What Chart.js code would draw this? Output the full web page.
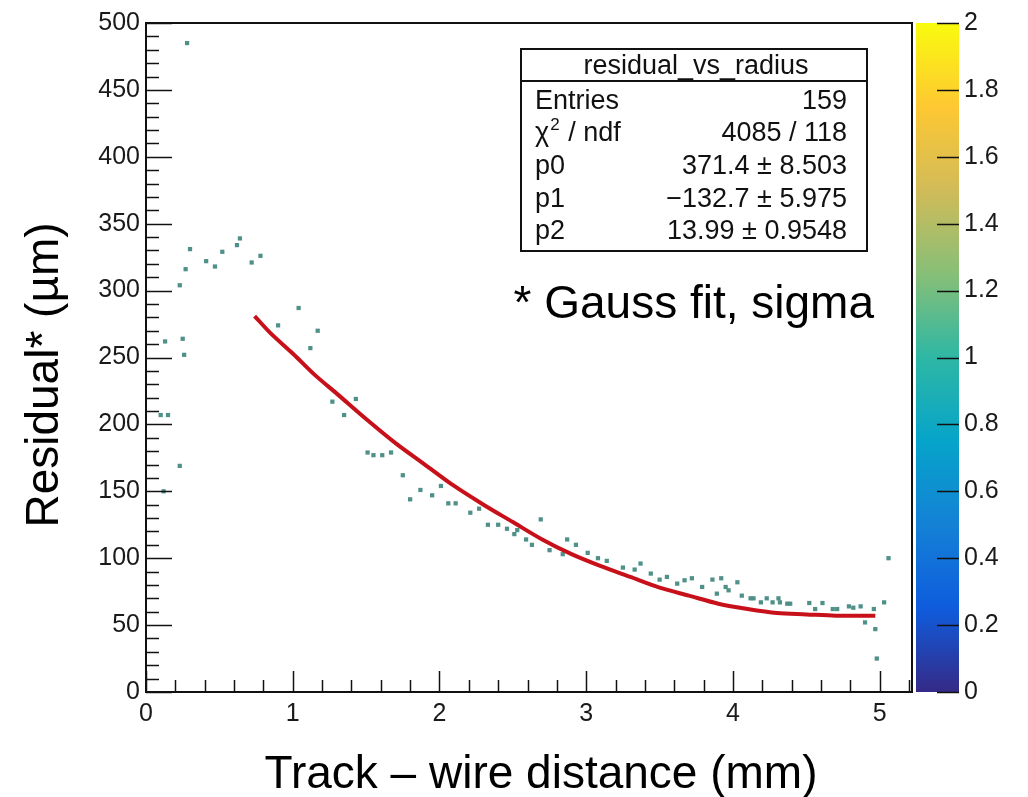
<!DOCTYPE html>
<html>
<head>
<meta charset="utf-8">
<script src="https://cdn.jsdelivr.net/npm/chart.js@4/dist/chart.umd.min.js"></script>
<style>
  html, body { margin: 0; padding: 0; background: #ffffff; }
  #wrap { width: 1028px; height: 797px; }
</style>
</head>
<body>
<div id="wrap"><canvas id="c" width="1028" height="797"></canvas></div>
<script>
// ---------------- data ----------------
const pointX = [
  0.28, 0.30, 0.52, 0.62, 0.64, 0.41, 0.47, 0.72, 0.78, 0.27, 0.23,
  0.13, 0.25, 0.26, 0.10, 0.15, 0.23, 0.12,
  0.90, 1.04, 1.12, 1.17, 1.27, 1.35, 1.43, 1.51, 1.55, 1.61, 1.67, 1.75,
  1.80, 1.87, 1.95, 2.01, 2.06, 2.11, 2.21, 2.27, 2.33, 2.40, 2.46, 2.51,
  2.53, 2.59, 2.63, 2.69, 2.75, 2.84, 2.87, 2.93, 3.01, 3.08, 3.14, 3.25,
  3.33, 3.37, 3.44, 3.50, 3.55, 3.62, 3.67, 3.72, 3.79, 3.86, 3.89, 3.92,
  3.95, 3.97, 4.03, 4.06, 4.12, 4.14, 4.19, 4.23, 4.27, 4.31, 4.32, 4.37,
  4.39, 4.52, 4.56, 4.61, 4.68, 4.71, 4.79, 4.82, 4.87, 4.90, 4.96, 4.97,
  5.03, 5.06, 4.98
];
const pointY = [
  485, 331, 329, 334, 339, 322, 318, 321, 326, 316, 304,
  262, 264, 252, 207, 207, 169, 150,
  274, 287, 257, 270, 217, 207, 219, 179, 177, 177, 179, 162,
  144, 151, 147, 154, 141, 141, 134, 137, 125, 125, 122, 118,
  121, 114, 110, 129, 106, 103, 114, 110, 104, 100, 98, 93,
  91.5, 96, 88.5, 84, 86, 81, 83.5, 85, 78.5, 84, 73.5, 85,
  78.5, 76, 82, 72, 70, 70, 67, 70, 67, 70, 67, 66,
  66, 66.5, 62, 66.5, 62, 62, 64, 63, 64, 52, 62, 47,
  67, 100, 25
];
// fit curve
const fitX = [0.74, 0.85, 1.0, 1.15, 1.3, 1.5, 1.7, 1.9, 2.1, 2.3, 2.5, 2.7, 2.9,
              3.1, 3.3, 3.5, 3.7, 3.9, 4.1, 4.3, 4.5, 4.7, 4.97];
const fitY = [281, 268, 253, 237, 223, 204, 186, 170, 154, 140, 127, 114, 103,
              94, 86, 78, 72, 66, 62, 59, 58, 57, 57];

const xTicks = [0, 1, 2, 3, 4, 5];
const yTicks = [0, 50, 100, 150, 200, 250, 300, 350, 400, 450, 500];
const zTicks = [0, 0.2, 0.4, 0.6, 0.8, 1, 1.2, 1.4, 1.6, 1.8, 2];

const statsTitle = "residual_vs_radius";
const statsLabels = ["Entries", "CHI2", "p0", "p1", "p2"];
const statsValues = ["159", "4085 / 118", "371.4 \u00b1 8.503", "\u2212132.7 \u00b1 5.975", "13.99 \u00b1 0.9548"];

const xTitle = "Track \u2013 wire distance (mm)";
const yTitle = "Residual* (\u00b5m)";
const noteText = "* Gauss fit, sigma";

// --------------- styling ---------------
const FONT = '"Liberation Sans", Arial, Helvetica, sans-serif';
const birdStops = [
  [0.000, 'rgb(53,42,135)'], [0.125, 'rgb(15,92,221)'], [0.250, 'rgb(20,129,214)'],
  [0.375, 'rgb(6,164,202)'], [0.500, 'rgb(46,183,164)'], [0.625, 'rgb(135,191,119)'],
  [0.750, 'rgb(209,187,89)'], [0.875, 'rgb(254,200,50)'], [1.000, 'rgb(249,251,14)']
];

const scatterData = pointX.map((x, i) => ({ x: x, y: pointY[i] }));
const fitData = fitX.map((x, i) => ({ x: x, y: fitY[i] }));

const rootPlugin = {
  id: 'rootDecor',
  afterDraw(chart) {
    const ctx = chart.ctx;
    const a = chart.chartArea;
    const xs = chart.scales.x, ys = chart.scales.y, zs = chart.scales.z;
    ctx.save();

    // colour bar
    const barL = a.right + 4, barR = a.right + 47;
    const zTop = zs.getPixelForValue(2), zBot = zs.getPixelForValue(0);
    const g = ctx.createLinearGradient(0, zBot, 0, zTop);
    birdStops.forEach(s => g.addColorStop(s[0], s[1]));
    ctx.fillStyle = g;
    ctx.fillRect(barL, zTop, barR - barL, zBot - zTop);
    ctx.strokeStyle = '#111';
    ctx.lineWidth = 1.5;
    zTicks.forEach(v => {
      const py = Math.round(zs.getPixelForValue(v)) + 0.5;
      ctx.beginPath(); ctx.moveTo(barR - 22, py); ctx.lineTo(barR, py); ctx.stroke();
    });

    // frame
    ctx.strokeStyle = '#111';
    ctx.lineWidth = 2;
    ctx.strokeRect(a.left, a.top, a.right - a.left, a.bottom - a.top);

    // x ticks (inward)
    ctx.lineWidth = 1.5;
    for (let k = 0; k <= 26; k++) {
      const v = k * 0.2;
      const px = Math.round(xs.getPixelForValue(v)) + 0.5;
      const len = (k % 5 === 0) ? 21 : 12;
      ctx.beginPath(); ctx.moveTo(px, a.bottom); ctx.lineTo(px, a.bottom - len); ctx.stroke();
    }
    // y ticks (inward)
    for (let k = 0; k <= 50; k++) {
      const v = k * 10;
      const py = Math.round(ys.getPixelForValue(v)) + 0.5;
      const len = (k % 5 === 0) ? 26 : 13;
      ctx.beginPath(); ctx.moveTo(a.left, py); ctx.lineTo(a.left + len, py); ctx.stroke();
    }

    // stats box
    const bL = 521, bR = 867, bT = 49, bB = 251, hB = 81;
    ctx.fillStyle = '#fff';
    ctx.fillRect(bL, bT, bR - bL, bB - bT);
    ctx.lineWidth = 2;
    ctx.strokeStyle = '#111';
    ctx.strokeRect(bL, bT, bR - bL, bB - bT);
    ctx.beginPath(); ctx.moveTo(bL, hB); ctx.lineTo(bR, hB); ctx.stroke();
    ctx.fillStyle = '#111';
    ctx.font = '27px ' + FONT;
    ctx.textBaseline = 'alphabetic';
    ctx.textAlign = 'center';
    ctx.fillText(statsTitle, (bL + bR) / 2 + 2, 74);
    const rowBase = [109, 141, 174, 207, 239];
    statsLabels.forEach((lab, i) => {
      ctx.textAlign = 'left';
      if (lab === 'CHI2') {
        ctx.font = '27px ' + FONT;
        ctx.fillText('\u03c7', 535, rowBase[i]);
        const w = ctx.measureText('\u03c7').width;
        ctx.font = '17px ' + FONT;
        ctx.fillText('2', 535 + w + 1, rowBase[i] - 11);
        const w2 = ctx.measureText('2').width;
        ctx.font = '27px ' + FONT;
        ctx.fillText(' / ndf', 535 + w + w2 + 2, rowBase[i]);
      } else {
        ctx.font = '27px ' + FONT;
        ctx.fillText(lab, 535, rowBase[i]);
      }
      ctx.textAlign = 'right';
      ctx.font = '27px ' + FONT;
      ctx.fillText(statsValues[i], 847, rowBase[i]);
    });

    // big annotation text
    ctx.fillStyle = '#000';
    ctx.font = '46px ' + FONT;
    ctx.textAlign = 'right';
    ctx.fillText(noteText, 874, 318);

    // axis titles
    ctx.textAlign = 'center';
    ctx.fillText(xTitle, 541, 788);
    ctx.save();
    ctx.translate(58, 375);
    ctx.rotate(-Math.PI / 2);
    ctx.fillText(yTitle, 0, 0);
    ctx.restore();

    ctx.restore();
  }
};

const tickFont = { family: FONT, size: 25 };
function noPad(s) { s.paddingTop = 0; s.paddingBottom = 0; }

new Chart(document.getElementById('c'), {
  type: 'scatter',
  data: {
    datasets: [
      {
        label: 'fit',
        data: fitData,
        showLine: true,
        borderColor: '#c8101a',
        borderWidth: 4,
        pointRadius: 0,
        tension: 0.3,
        fill: false
      },
      {
        label: 'residual_vs_radius',
        data: scatterData,
        pointStyle: 'rect',
        pointRadius: 3,
        pointBackgroundColor: '#4f9088',
        pointBorderWidth: 0,
        borderWidth: 0
      }
    ]
  },
  options: {
    responsive: false,
    animation: false,
    devicePixelRatio: 1,
    layout: { padding: { top: 23, left: 0, right: 0, bottom: 0 } },
    plugins: { legend: { display: false }, tooltip: { enabled: false } },
    scales: {
      x: {
        type: 'linear', position: 'bottom', min: 0, max: 5.22,
        grid: { display: false, drawTicks: false },
        border: { display: false },
        afterBuildTicks: s => { s.ticks = xTicks.map(v => ({ value: v })); },
        afterFit: s => { s.height = 105; s.paddingLeft = 0; s.paddingRight = 0; },
        ticks: { font: tickFont, color: '#1a1a1a', padding: 7, maxRotation: 0, autoSkip: false,
                 callback: v => String(v) }
      },
      y: {
        type: 'linear', position: 'left', min: 0, max: 500,
        grid: { display: false, drawTicks: false },
        border: { display: false },
        afterBuildTicks: s => { s.ticks = yTicks.map(v => ({ value: v })); },
        afterFit: s => { s.width = 146; noPad(s); },
        ticks: { font: tickFont, color: '#1a1a1a', padding: 6, autoSkip: false,
                 callback: v => String(v) }
      },
      z: {
        type: 'linear', position: 'right', min: 0, max: 2,
        grid: { display: false, drawTicks: false },
        border: { display: false },
        afterBuildTicks: s => { s.ticks = zTicks.map(v => ({ value: v })); },
        afterFit: s => { s.width = 116; noPad(s); },
        ticks: { font: tickFont, color: '#1a1a1a', padding: 52, autoSkip: false,
                 callback: v => String(Math.round(v * 10) / 10) }
      }
    }
  },
  plugins: [rootPlugin]
});
</script>
</body>
</html>
